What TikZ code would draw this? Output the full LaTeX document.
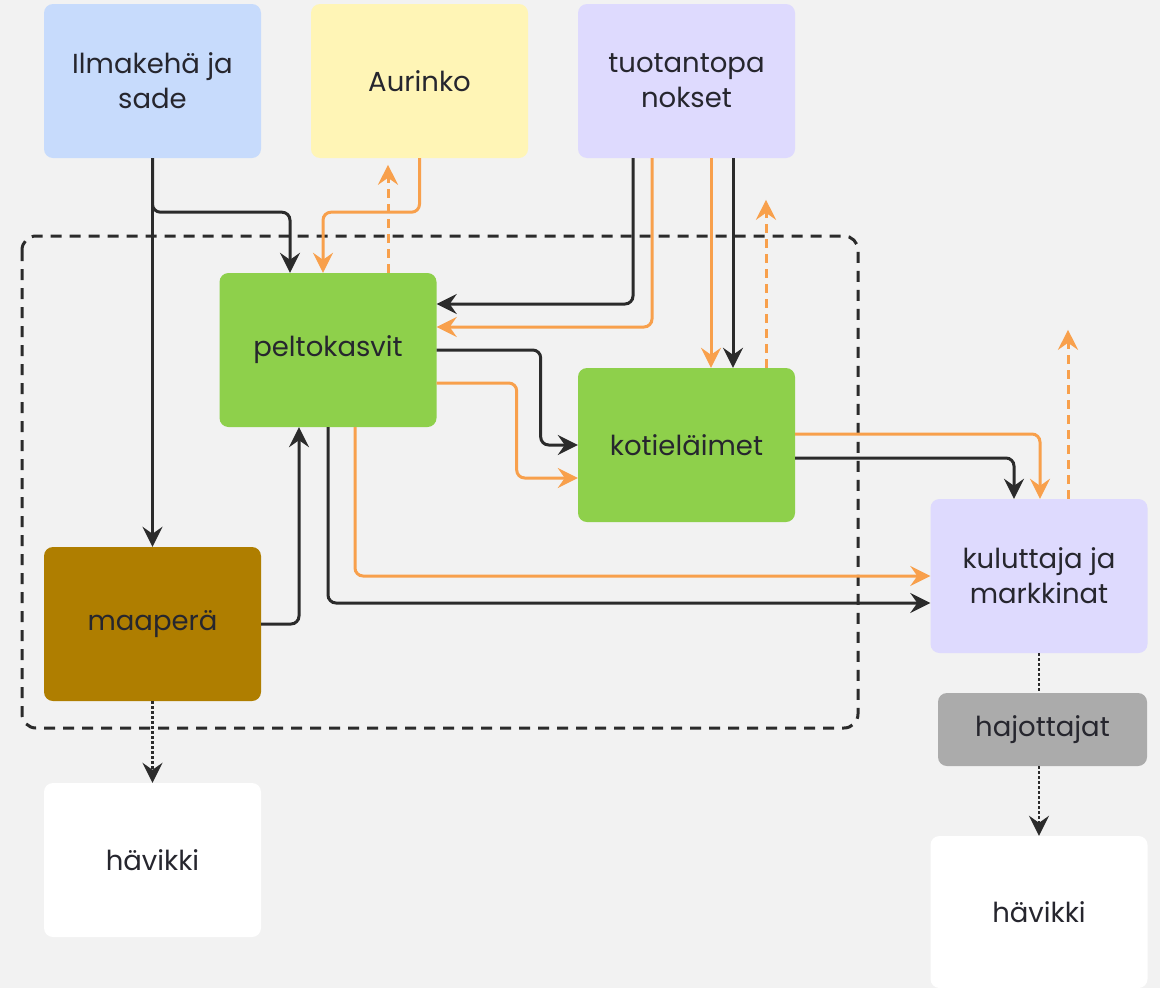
\documentclass[tikz,border=0pt]{standalone}
\usepackage{fontspec}
\setmainfont{Poppins}
\usepackage{xcolor}
\usetikzlibrary{arrows.meta}

\definecolor{bgcol}{HTML}{F2F2F2}
\definecolor{skyblue}{HTML}{C7DBFC}
\definecolor{sunyellow}{HTML}{FFF5B6}
\definecolor{lilac}{HTML}{DEDAFE}
\definecolor{leafgreen}{HTML}{8ED04B}
\definecolor{soilbrown}{HTML}{AF7E00}
\definecolor{decgray}{HTML}{ABABAB}
\definecolor{inkcol}{HTML}{26262E}
\definecolor{linecol}{HTML}{2B2B2B}
\definecolor{orangecol}{HTML}{F8A04C}

\begin{document}
\begin{tikzpicture}[
	x=1pt, y=-1pt,
	box/.style={
		rectangle, rounded corners=9pt,
		minimum width=217pt, minimum height=154pt,
		font=\fontsize{27.5}{35}\selectfont, text=inkcol,
		align=center, inner sep=4pt
	},
	tip/.style={-{Stealth[length=20pt,width=20pt,inset=7pt]}},
	blk/.style={line width=3pt, draw=linecol, rounded corners=8pt, tip},
	org/.style={line width=3pt, draw=orangecol, rounded corners=8pt, tip},
	orgdash/.style={org, dash pattern=on 9pt off 6pt},
	dots/.style={line width=2.5pt, draw=linecol, dash pattern=on 2.5pt off 2.5pt},
	]
	
	% background and page size
	\fill[bgcol] (0,0) rectangle (1160,988);
	\useasboundingbox (0,0) rectangle (1160,988);
	
	% system boundary
	\draw[line width=3pt, linecol, rounded corners=14pt, dash pattern=on 11pt off 8pt]
	(22,236) rectangle (858,728);
	
	% Inputs (top row)
	\node[box, fill=skyblue]   (ilma)     at (152.5, 81) {Ilmakehä ja\\sade};
	\node[box, fill=sunyellow] (aurinko)  at (419.5, 81) {Aurinko};
	\node[box, fill=lilac]     (panokset) at (686.5, 81) {tuotantopa\\nokset};
	
	% Production
	\node[box, fill=leafgreen] (pelto)  at (328, 350)   {peltokasvit};
	\node[box, fill=leafgreen] (kotiel) at (686.5, 445) {kotieläimet};
	\node[box, fill=soilbrown] (maapera) at (152.5, 624) {maaperä};
	
	% Consumption and losses
	\node[box, fill=lilac] (kuluttaja) at (1039, 576) {kuluttaja ja\\markkinat};
	\node[box, fill=decgray, minimum width=209pt, minimum height=73pt]
	(hajottajat) at (1042.5, 729.5) {hajottajat};
	\node[box, fill=white] (havikkiA) at (152.5, 860) {hävikki};
	\node[box, fill=white, minimum height=152pt] (havikkiB) at (1039, 912) {hävikki};
	
	% Atmosphere -> soil, fields
	\draw[blk] (ilma.south) -- (maapera.north);
	\draw[blk] (ilma.south) -- ++(0,54) -| ([xshift=-38pt]pelto.north);
	
	% Sun <-> fields
	\draw[org] (aurinko.south) -- ++(0,54) -| ([xshift=-5pt]pelto.north);
	\draw[orgdash] ([xshift=60pt]pelto.north) -- ++(0,-108);
	
	% Inputs -> fields, livestock
	\draw[blk] ([xshift=-53.5pt]panokset.south) |- ([yshift=46pt]pelto.east);
	\draw[org] ([xshift=-34.5pt]panokset.south) |- ([yshift=23pt]pelto.east);
	\draw[org] ([xshift=24.5pt]panokset.south) -- ([xshift=24.5pt]kotiel.north);
	\draw[blk] ([xshift=46.5pt]panokset.south) -- ([xshift=46.5pt]kotiel.north);
	\draw[orgdash] ([xshift=79.5pt]kotiel.north) -- ++(0,-168);
	
	% Fields -> livestock
	\draw[blk] (pelto.east) -- ++(104,0) |- (kotiel.west);
	\draw[org] ([yshift=-33pt]pelto.east) -- ++(80,0) |- ([yshift=-33pt]kotiel.west);
	
	% Fields -> consumer
	\draw[org] ([xshift=27pt]pelto.south) |- (kuluttaja.west);
	\draw[blk] (pelto.south) |- ([yshift=-27pt]kuluttaja.west);
	
	% Soil -> fields
	\draw[blk] (maapera.east) -| ([xshift=-29pt]pelto.south);
	
	% Livestock -> consumer
	\draw[org] ([yshift=11pt]kotiel.east) -| ([xshift=1pt]kuluttaja.north);
	\draw[blk] ([yshift=-13pt]kotiel.east) -| ([xshift=-25pt]kuluttaja.north);
	\draw[orgdash] ([xshift=29pt]kuluttaja.north) -- ++(0,-169);
	
	% Losses
	\draw[dots, tip] (maapera.south) -- (havikkiA.north);
	\draw[dots] (kuluttaja.south) -- (kuluttaja.south |- hajottajat.north);
	\draw[dots, tip] (hajottajat.south -| kuluttaja.south) -- (havikkiB.north);
	
\end{tikzpicture}
\end{document}
